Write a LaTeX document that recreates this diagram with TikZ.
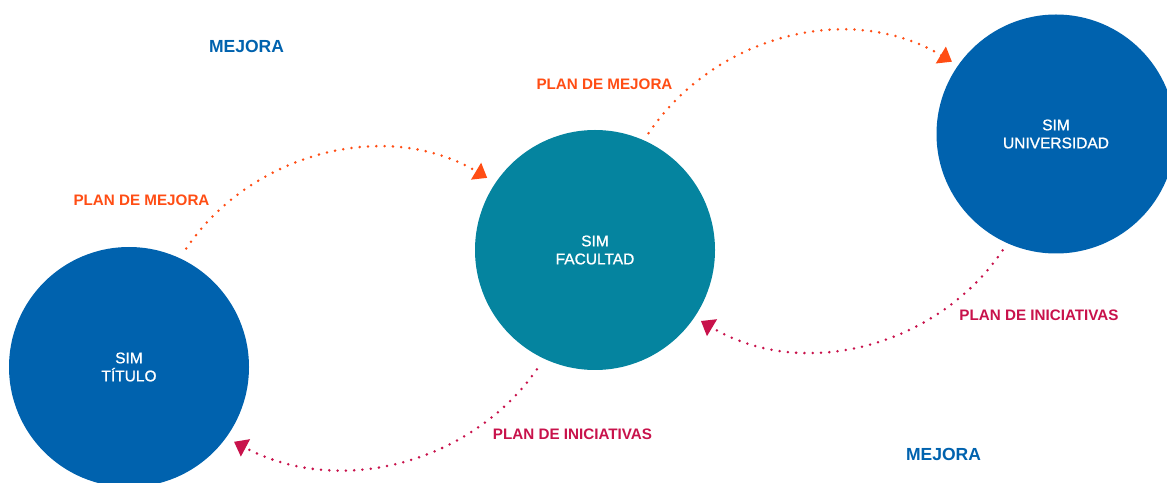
\documentclass[tikz,border=0pt]{standalone}
\usepackage{fontspec}
\setmainfont{Liberation Sans}
\newfontfamily\medfont[FakeBold=1]{Liberation Sans}
\usepackage{tikz}
\usetikzlibrary{arrows.meta}
\usepackage{xcolor}
\definecolor{simblue}{HTML}{0062AE}
\definecolor{simteal}{HTML}{05849F}
\definecolor{planorange}{HTML}{FF4D14}
\definecolor{plancrimson}{HTML}{C8124B}

\begin{document}
\begin{tikzpicture}[x=1pt,y=1pt]
    \tikzstyle{sim} = [circle,fill=simblue,text=white,align=center,inner sep=0pt,minimum size=240pt,font=\medfont\fontsize{15.5}{18}\selectfont]
    \tikzstyle{mejora} = [text=simblue,font=\fontsize{17.5}{20}\selectfont\bfseries]
    \tikzstyle{plan} = [font=\fontsize{15.2}{18}\selectfont\bfseries]
    \tikzstyle{dots} = [line width=2.8pt,line cap=round,dash pattern=on 0pt off 8.3pt,-{Triangle[length=13pt,width=19pt]}]
    \useasboundingbox (0,0) rectangle (1167,482);
    % circles
    \node[sim] (tit) at (129,115) {SIM\\TÍTULO};
    \node[sim,fill=simteal] (fac) at (595,232) {SIM\\FACULTAD};
    \node[sim,minimum size=239pt] (uni) at (1056,348) {SIM\\UNIVERSIDAD};
    % labels
    \node[mejora] (mejora1) at (246.5,436) {MEJORA};
    \node[mejora] (mejora2) at (943.5,27.5) {MEJORA};
    \node[plan,text=planorange] (plan1) at (141.5,281.5) {PLAN DE MEJORA};
    \node[plan,text=planorange] (plan2) at (604.5,398) {PLAN DE MEJORA};
    \node[plan,text=plancrimson] (ini1) at (1039,167) {PLAN DE INICIATIVAS};
    \node[plan,text=plancrimson] (ini2) at (572.5,48) {PLAN DE INICIATIVAS};
    % arcs
    \draw[dots,planorange,shorten <=11.5pt,shorten >=9.5pt] (tit.65) to[out=56,in=149] (fac.146);
    \draw[dots,planorange,shorten <=8.4pt,shorten >=7pt] (fac.66) to[out=56,in=149] (uni.145);
    \draw[dots,plancrimson,shorten <=8.5pt,shorten >=7.3pt] (uni.246) to[out=236,in=-31] (fac.-34);
    \draw[dots,plancrimson,shorten <=12.8pt,shorten >=8.8pt] (fac.245) to[out=235,in=-28] (tit.-36);
\end{tikzpicture}
\end{document}
